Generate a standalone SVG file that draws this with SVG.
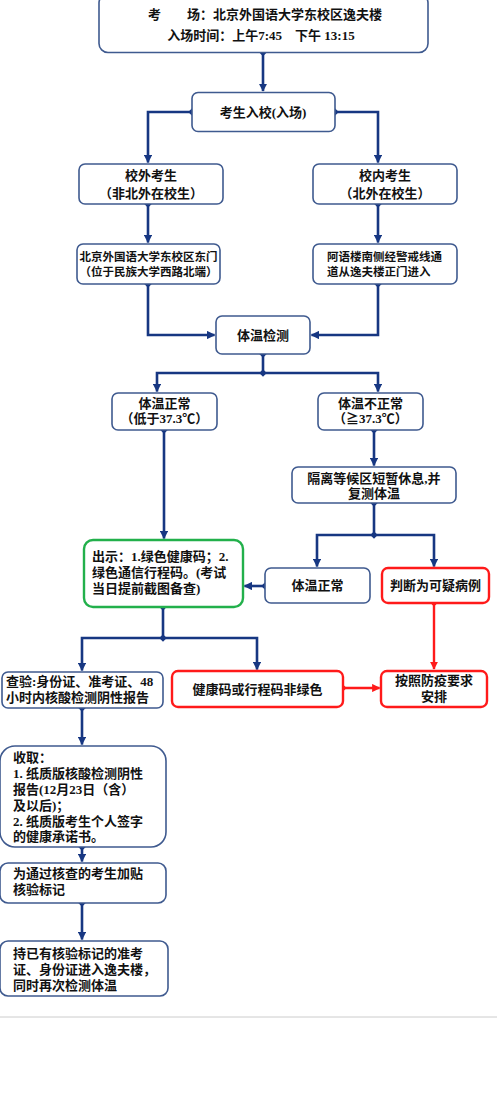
<svg xmlns="http://www.w3.org/2000/svg" width="497" height="1095" viewBox="0 0 497 1095">
<defs>
<style>
.box{fill:#fff;stroke:#3f5a8f;stroke-width:1.6}
.red{fill:#fff;stroke:#ff1a1a;stroke-width:2.4}
.green{fill:#fff;stroke:#22b04b;stroke-width:2.4}
.t{font-family:"Liberation Serif","Noto Sans CJK SC",serif;font-weight:bold;font-size:13px;fill:#111}
.s{font-size:11.5px}
.c{text-anchor:middle}
.conn{fill:none;stroke:#173782;stroke-width:2.6}
.rconn{fill:none;stroke:#ff1a1a;stroke-width:2.4}
</style>
<marker id="ah" viewBox="0 0 10 10" refX="9" refY="5" markerWidth="3.2" markerHeight="3.2" markerUnits="strokeWidth" orient="auto"><path d="M0,0 L10,5 L0,10 z" fill="#173782"/></marker>
<marker id="dot" viewBox="0 0 10 10" refX="5" refY="5" markerWidth="2.9" markerHeight="2.9" markerUnits="strokeWidth" orient="auto"><path d="M5,0 L10,5 L5,10 L0,5 z" fill="#173782"/></marker>
<marker id="rah" viewBox="0 0 10 10" refX="9" refY="5" markerWidth="3.4" markerHeight="3.4" markerUnits="strokeWidth" orient="auto"><path d="M0,0 L10,5 L0,10 z" fill="#ff1a1a"/></marker>
<marker id="rdot" viewBox="0 0 10 10" refX="5" refY="5" markerWidth="3" markerHeight="3" markerUnits="strokeWidth" orient="auto"><path d="M5,0 L10,5 L5,10 L0,5 z" fill="#ff1a1a"/></marker>
</defs>
<rect width="497" height="1095" fill="#fff"/>

<g id="connectors">
<path class="conn" d="M263,52.5 V91" marker-start="url(#dot)" marker-end="url(#ah)"/>
<path class="conn" d="M192,112 H148 V162.5" marker-start="url(#dot)" marker-end="url(#ah)"/>
<path class="conn" d="M335,112 H378 V162.5" marker-start="url(#dot)" marker-end="url(#ah)"/>
<path class="conn" d="M148,204 V242.5" marker-start="url(#dot)" marker-end="url(#ah)"/>
<path class="conn" d="M378,204 V242.5" marker-start="url(#dot)" marker-end="url(#ah)"/>
<path class="conn" d="M148,284 V335 H214.5" marker-start="url(#dot)" marker-end="url(#ah)"/>
<path class="conn" d="M378,284 V335 H311.5" marker-start="url(#dot)" marker-end="url(#ah)"/>
<path class="conn" d="M263,354 V373" marker-start="url(#dot)"/>
<path class="conn" d="M263,373 H157 V391.5" marker-start="url(#dot)" marker-end="url(#ah)"/>
<path class="conn" d="M263,373 H378 V391.5" marker-end="url(#ah)"/>
<path class="conn" d="M164,430 V538.5" marker-start="url(#dot)" marker-end="url(#ah)"/>
<path class="conn" d="M374,430 V465.5" marker-start="url(#dot)" marker-end="url(#ah)"/>
<path class="conn" d="M374,503 V535" marker-start="url(#dot)"/>
<path class="conn" d="M374,535 H317 V566.5" marker-start="url(#dot)" marker-end="url(#ah)"/>
<path class="conn" d="M374,535 H434 V566.5" marker-end="url(#ah)"/>
<path class="conn" d="M265,586 H244.5" marker-start="url(#dot)" marker-end="url(#ah)"/>
<path class="conn" d="M163,607 V638" marker-start="url(#dot)"/>
<path class="conn" d="M163,638 H82 V670.5" marker-start="url(#dot)" marker-end="url(#ah)"/>
<path class="conn" d="M163,638 H257 V669.5" marker-end="url(#ah)"/>
<path class="conn" d="M82,708 V744.5" marker-start="url(#dot)" marker-end="url(#ah)"/>
<path class="conn" d="M82,847 V861.5" marker-start="url(#dot)" marker-end="url(#ah)"/>
<path class="conn" d="M82,903 V939.5" marker-start="url(#dot)" marker-end="url(#ah)"/>
<path class="rconn" d="M434,603 V669" marker-start="url(#rdot)" marker-end="url(#rah)"/>
<path class="rconn" d="M343,688 H379.5" marker-start="url(#rdot)" marker-end="url(#rah)"/>
</g>

<g id="n-top">
<rect class="box" x="99" y="-6" width="329" height="58.5" rx="9"/>
<text class="t c" x="265" y="19">考　　场：北京外国语大学东校区逸夫楼</text>
<text class="t c" x="261" y="40">入场时间：上午7:45　下午 13:15</text>
</g>
<g id="n-enter">
<rect class="box" x="192" y="92.5" width="143" height="39" rx="6"/>
<text class="t c" x="263" y="116.5">考生入校(入场)</text>
</g>
<g id="n-out">
<rect class="box" x="79" y="164" width="144" height="40" rx="6"/>
<text class="t c" x="151" y="180">校外考生</text>
<text class="t c" x="151" y="198">（非北外在校生）</text>
</g>
<g id="n-in">
<rect class="box" x="313" y="164" width="144" height="40" rx="6"/>
<text class="t c" x="385" y="180">校内考生</text>
<text class="t c" x="385" y="198">（北外在校生）</text>
</g>
<g id="n-eastgate">
<rect class="box" x="77" y="244" width="143" height="40" rx="6"/>
<text class="t s c" x="148.5" y="261">北京外国语大学东校区东门</text>
<text class="t s c" x="148.5" y="276">（位于民族大学西路北端）</text>
</g>
<g id="n-ayu">
<rect class="box" x="313" y="244" width="144" height="40" rx="6"/>
<text class="t s" x="327" y="261">阿语楼南侧经警戒线通</text>
<text class="t s" x="327" y="276">道从逸夫楼正门进入</text>
</g>
<g id="n-temp">
<rect class="box" x="216" y="316" width="94" height="38" rx="6"/>
<text class="t c" x="263" y="339.5">体温检测</text>
</g>
<g id="n-normal">
<rect class="box" x="112" y="393" width="105" height="37" rx="6"/>
<text class="t c" x="164.5" y="407.5">体温正常</text>
<text class="t c" x="164.5" y="423">（低于37.3℃）</text>
</g>
<g id="n-abnormal">
<rect class="box" x="318" y="393" width="105" height="37" rx="6"/>
<text class="t c" x="370.5" y="407.5">体温不正常</text>
<text class="t c" x="370.5" y="423">（≧37.3℃）</text>
</g>
<g id="n-isolate">
<rect class="box" x="292" y="467" width="164" height="36" rx="6"/>
<text class="t c" x="374" y="483">隔离等候区短暂休息,并</text>
<text class="t c" x="374" y="498">复测体温</text>
</g>
<g id="n-normal2">
<rect class="box" x="265" y="568" width="105" height="35" rx="6"/>
<text class="t c" x="317.5" y="590">体温正常</text>
</g>
<g id="n-suspect">
<rect class="red" x="382" y="568" width="107" height="35" rx="6"/>
<text class="t c" x="435.5" y="590">判断为可疑病例</text>
</g>
<g id="n-show">
<rect class="green" x="84" y="540" width="159" height="67" rx="9"/>
<text class="t" x="92" y="561">出示：1.绿色健康码；2.</text>
<text class="t" x="92" y="577">绿色通信行程码。(考试</text>
<text class="t" x="92" y="593">当日提前截图备查)</text>
</g>
<g id="n-check">
<rect class="box" x="2" y="672" width="161" height="36" rx="6"/>
<text class="t" x="6" y="686">查验:身份证、准考证、48</text>
<text class="t" x="6" y="702">小时内核酸检测阴性报告</text>
</g>
<g id="n-nongreen">
<rect class="red" x="172" y="671" width="171" height="36" rx="6"/>
<text class="t c" x="257.5" y="693.5">健康码或行程码非绿色</text>
</g>
<g id="n-arrange">
<rect class="red" x="381" y="671" width="106" height="36" rx="6"/>
<text class="t c" x="434" y="685">按照防疫要求</text>
<text class="t c" x="434" y="701">安排</text>
</g>
<g id="n-collect">
<rect class="box" x="0" y="746" width="166" height="101" rx="15"/>
<text class="t" x="13" y="762">收取：</text>
<text class="t" x="13" y="778">1. 纸质版核酸检测阴性</text>
<text class="t" x="13" y="794">报告(12月23日（含）</text>
<text class="t" x="13" y="810">及以后)；</text>
<text class="t" x="13" y="826">2. 纸质版考生个人签字</text>
<text class="t" x="13" y="841">的健康承诺书。</text>
</g>
<g id="n-mark">
<rect class="box" x="0" y="863" width="166" height="40" rx="8"/>
<text class="t" x="13" y="877.5">为通过核查的考生加贴</text>
<text class="t" x="13" y="893.5">核验标记</text>
</g>
<g id="n-final">
<rect class="box" x="0" y="941" width="168" height="55" rx="8"/>
<text class="t" x="13" y="957.5">持已有核验标记的准考</text>
<text class="t" x="13" y="974">证、身份证进入逸夫楼，</text>
<text class="t" x="13" y="990">同时再次检测体温</text>
</g>
<line x1="0" y1="1017" x2="497" y2="1017" stroke="#cccccc" stroke-width="1"/>
</svg>
